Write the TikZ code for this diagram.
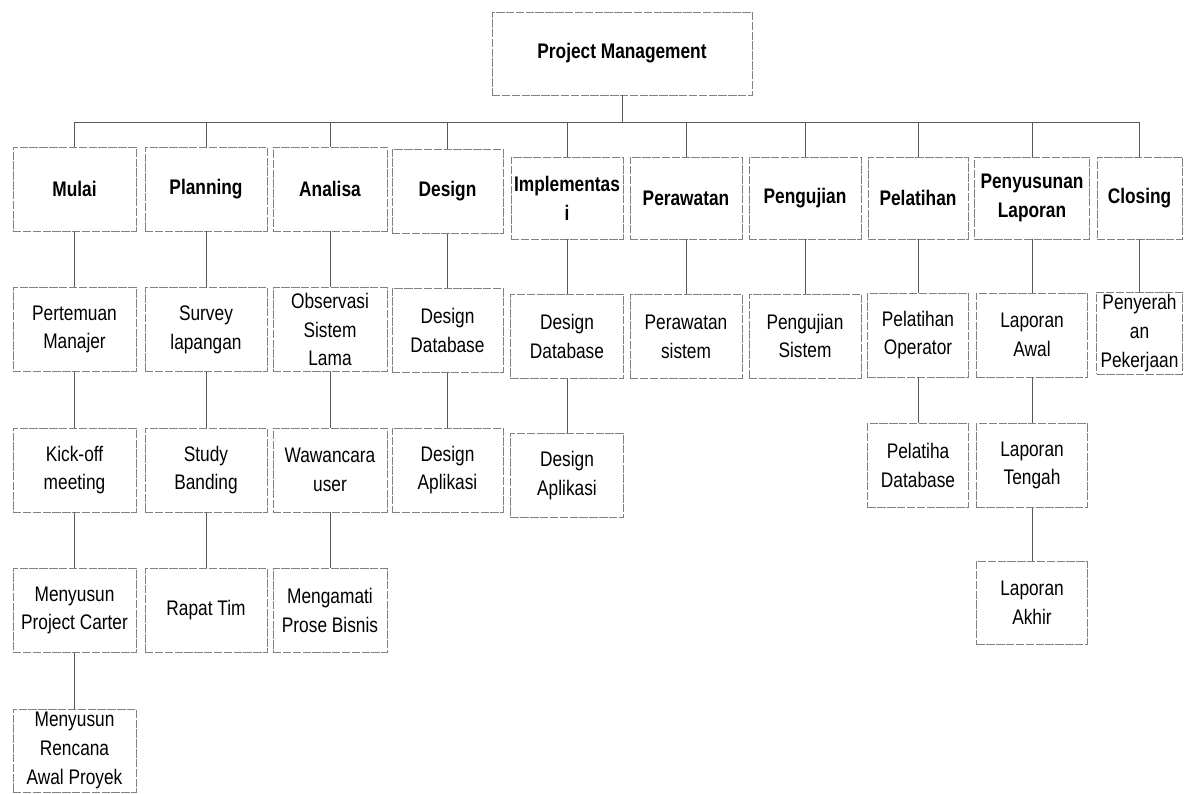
\documentclass[tikz,border=0pt]{standalone}
\usepackage{fontspec}
\setmainfont{Liberation Sans}[FakeStretch=0.82]
\begin{document}
\begin{tikzpicture}[x=0.025cm,y=-0.025cm,
  box/.style={draw=black!50, line width=0.5pt, dash pattern=on 6pt off 1pt, align=center, inner sep=1pt, minimum height=2.1cm, font=\fontsize{15}{20.5}\selectfont},
  head/.style={box, font=\fontsize{15}{20.5}\selectfont\bfseries},
  link/.style={draw=black!65, line width=0.5pt}]
\useasboundingbox (0,0) rectangle (1184,794);
% top
\node[head, minimum width=6.5cm, minimum height=2.075cm] (pm) at (622,53.5) {Project Management};
\coordinate (bus) at (0,122);
% first level
\node[head, minimum width=3.075cm] (mulai) at (74.5,189) {Mulai};
\node[head, minimum width=3.05cm] (planning) at (206,189) {Planning};
\node[head, minimum width=2.85cm] (analisa) at (330,189) {Analisa};
\node[head, minimum width=2.775cm] (design) at (447.5,191.5) {Design};
\node[head, minimum width=2.8cm, minimum height=2.05cm] (impl) at (567,198) {Implementas\\i};
\node[head, minimum width=2.8cm, minimum height=2.05cm] (rawat) at (686,198) {Perawatan};
\node[head, minimum width=2.8cm, minimum height=2.05cm] (uji) at (805,198) {Pengujian};
\node[head, minimum width=2.5cm, minimum height=2.05cm] (latih) at (918,198) {Pelatihan};
\node[head, minimum width=2.875cm, minimum height=2.05cm] (lapor) at (1032,198) {Penyusunan\\Laporan};
\node[head, minimum width=2.125cm, minimum height=2.05cm] (closing) at (1139.5,198) {Closing};
% second level
\node[box, minimum width=3.075cm] (pertemuan) at (74.5,329.5) {Pertemuan\\Manajer};
\node[box, minimum width=3.05cm] (survey) at (206,329.5) {Survey\\lapangan};
\node[box, minimum width=2.85cm] (observasi) at (330,329.5) {Observasi\\Sistem\\Lama};
\node[box, minimum width=2.775cm] (dbdesign) at (447.5,330.5) {Design\\Database};
\node[box, minimum width=2.825cm] (dbimpl) at (567,336.5) {Design\\Database};
\node[box, minimum width=2.8cm] (rawatsis) at (686,336.5) {Perawatan\\sistem};
\node[box, minimum width=2.8cm] (ujisis) at (805,336) {Pengujian\\Sistem};
\node[box, minimum width=2.525cm] (operator) at (918,335) {Pelatihan\\Operator};
\node[box, minimum width=2.775cm] (awal) at (1032,335) {Laporan\\Awal};
\node[box, minimum width=2.15cm, minimum height=2.05cm] (serah) at (1139.5,333) {Penyerah\\an\\Pekerjaan};
% third level
\node[box, minimum width=3.075cm] (kickoff) at (74.5,470) {Kick-off\\meeting};
\node[box, minimum width=3.05cm] (banding) at (206,470) {Study\\Banding};
\node[box, minimum width=2.85cm] (wawancara) at (330,470) {Wawancara\\user};
\node[box, minimum width=2.775cm] (apldesign) at (447.5,470) {Design\\Aplikasi};
\node[box, minimum width=2.825cm] (aplimpl) at (567,475.5) {Design\\Aplikasi};
\node[box, minimum width=2.525cm] (pelatiha) at (918,465.5) {Pelatiha\\Database};
\node[box, minimum width=2.775cm] (tengah) at (1032,465.5) {Laporan\\Tengah};
% fourth and fifth level
\node[box, minimum width=3.075cm] (carter) at (74.5,610.5) {Menyusun\\Project Carter};
\node[box, minimum width=3.05cm] (rapat) at (206,610.5) {Rapat Tim};
\node[box, minimum width=2.85cm] (bisnis) at (330,610.5) {Mengamati\\Prose Bisnis};
\node[box, minimum width=2.775cm, minimum height=2.075cm] (akhir) at (1032,602.5) {Laporan\\Akhir};
\node[box, minimum width=3.075cm, minimum height=2.075cm] (rencana) at (74.5,750.5) {Menyusun\\Rencana\\Awal Proyek};
% bus lines
\draw[link] (pm) -- (pm |- bus);
\draw[link] (mulai) -- (mulai |- bus) -- (closing |- bus) -- (closing);
\draw[link] (planning) -- (planning |- bus);
\draw[link] (analisa) -- (analisa |- bus);
\draw[link] (design) -- (design |- bus);
\draw[link] (impl) -- (impl |- bus);
\draw[link] (rawat) -- (rawat |- bus);
\draw[link] (uji) -- (uji |- bus);
\draw[link] (latih) -- (latih |- bus);
\draw[link] (lapor) -- (lapor |- bus);
% columns
\draw[link] (mulai) -- (pertemuan);
\draw[link] (pertemuan) -- (kickoff);
\draw[link] (kickoff) -- (carter);
\draw[link] (carter) -- (rencana);
\draw[link] (planning) -- (survey);
\draw[link] (survey) -- (banding);
\draw[link] (banding) -- (rapat);
\draw[link] (analisa) -- (observasi);
\draw[link] (observasi) -- (wawancara);
\draw[link] (wawancara) -- (bisnis);
\draw[link] (design) -- (dbdesign);
\draw[link] (dbdesign) -- (apldesign);
\draw[link] (impl) -- (dbimpl);
\draw[link] (dbimpl) -- (aplimpl);
\draw[link] (rawat) -- (rawatsis);
\draw[link] (uji) -- (ujisis);
\draw[link] (latih) -- (operator);
\draw[link] (operator) -- (pelatiha);
\draw[link] (lapor) -- (awal);
\draw[link] (awal) -- (tengah);
\draw[link] (tengah) -- (akhir);
\draw[link] (closing) -- (serah);
\end{tikzpicture}
\end{document}
